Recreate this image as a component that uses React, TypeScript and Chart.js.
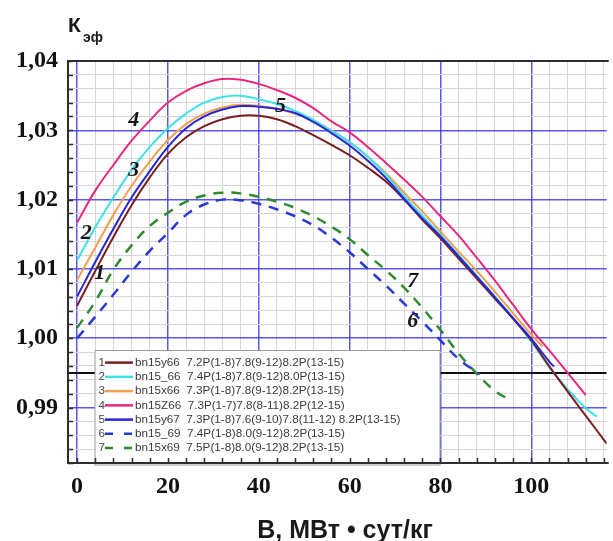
import React, { useEffect, useRef } from 'react';
import { Chart, registerables } from 'chart.js';

Chart.register(...registerables);

// ---------- data ----------
const seriesNames = [
  'bn15y66  7.2P(1-8)7.8(9-12)8.2P(13-15)',
  'bn15_66  7.4P(1-8)7.8(9-12)8.0P(13-15)',
  'bn15x66  7.3P(1-8)7.8(9-12)8.2P(13-15)',
  'bn15Z66  7.3P(1-7)7.8(8-11)8.2P(12-15)',
  'bn15y67  7.3P(1-8)7.6(9-10)7.8(11-12) 8.2P(13-15)',
  'bn15_69  7.4P(1-8)8.0(9-12)8.2P(13-15)',
  'bn15x69  7.5P(1-8)8.0(9-12)8.2P(13-15)',
];
const seriesColors = ['#7a1f1f', '#3fe0ea', '#f0a050', '#e8287e', '#2626d6', '#2a3ad0', '#2f8a2f'];
const seriesDashed = [false, false, false, false, false, true, true];

const x1 = [0, 4, 8, 12, 16, 20, 24, 28, 32, 36, 40, 44, 48, 52, 56, 60, 64, 68, 72, 76, 80, 84, 88, 92, 96, 100, 104, 108, 112, 116.6];
const y1 = [1.0047, 1.0097, 1.0146, 1.0192, 1.0232, 1.0266, 1.029, 1.0306, 1.0316, 1.0321, 1.0321, 1.0316, 1.0306, 1.0293, 1.0279, 1.0264, 1.0246, 1.0226, 1.02, 1.0171, 1.0144, 1.0115, 1.0086, 1.0057, 1.0028, 0.9997, 0.9959, 0.9923, 0.9888, 0.9848];

const x2 = [0, 4, 8, 12, 16, 20, 24, 28, 32, 36, 40, 44, 48, 52, 56, 60, 64, 68, 72, 76, 80, 84, 88, 92, 96, 100, 104, 108, 112, 114.4];
const y2 = [1.0112, 1.016, 1.0203, 1.0243, 1.0276, 1.0303, 1.0324, 1.034, 1.0348, 1.035, 1.0345, 1.0338, 1.0328, 1.0315, 1.0299, 1.0283, 1.0262, 1.0236, 1.0205, 1.0177, 1.0149, 1.012, 1.009, 1.006, 1.0029, 0.9995, 0.9958, 0.9926, 0.9899, 0.9887];

const x3 = [0, 4, 8, 12, 16, 20, 24, 28, 32, 36, 40, 44, 48, 52, 56, 60, 64, 68, 72, 76, 80, 84, 88, 92, 96, 100, 102.5];
const y3 = [1.0084, 1.0131, 1.0178, 1.022, 1.0255, 1.0286, 1.0309, 1.0324, 1.0333, 1.0337, 1.0335, 1.0331, 1.0324, 1.0314, 1.03, 1.0283, 1.0262, 1.0238, 1.021, 1.0183, 1.0154, 1.0125, 1.0097, 1.0067, 1.0036, 1.0005, 0.9988];

const x4 = [0, 4, 8, 12, 16, 20, 24, 28, 32, 36, 40, 44, 48, 52, 56, 60, 64, 68, 72, 76, 80, 84, 88, 92, 96, 100, 104, 108, 112];
const y4 = [1.0167, 1.0213, 1.025, 1.0285, 1.0314, 1.034, 1.0357, 1.0368, 1.0374, 1.0373, 1.0367, 1.0358, 1.0347, 1.0332, 1.0313, 1.0297, 1.0276, 1.0253, 1.0229, 1.0204, 1.0176, 1.0148, 1.0116, 1.0083, 1.0048, 1.0013, 0.9982, 0.995, 0.9918];

const x5 = [0, 4, 8, 12, 16, 20, 24, 28, 32, 36, 40, 44, 48, 52, 56, 60, 64, 68, 72, 76, 80, 84, 88, 92, 96, 100, 104, 105];
const y5 = [1.006, 1.011, 1.0158, 1.0203, 1.0241, 1.0276, 1.0303, 1.032, 1.033, 1.0335, 1.0334, 1.0331, 1.0325, 1.0312, 1.0296, 1.0278, 1.0256, 1.0231, 1.0201, 1.0173, 1.0147, 1.0118, 1.0089, 1.0059, 1.0029, 0.9999, 0.9966, 0.9959];

const x6 = [0, 4, 8, 12, 16, 20, 24, 28, 32, 36, 40, 44, 48, 52, 56, 60, 64, 68, 72, 76, 80, 84, 88, 88.7];
const y6 = [1.0, 1.0031, 1.0063, 1.0096, 1.0126, 1.0152, 1.0178, 1.0193, 1.02, 1.0199, 1.0194, 1.0186, 1.0176, 1.0163, 1.0145, 1.0124, 1.01, 1.0076, 1.005, 1.0024, 0.9997, 0.997, 0.9951, 0.9948];

const x7 = [0, 4, 8, 12, 16, 20, 24, 28, 32, 36, 40, 44, 48, 52, 56, 60, 64, 68, 72, 76, 80, 84, 88, 92, 95.6];
const y7 = [1.0015, 1.0053, 1.0099, 1.0134, 1.0162, 1.0181, 1.0197, 1.0206, 1.021, 1.0209, 1.0204, 1.0197, 1.0188, 1.0176, 1.0161, 1.0143, 1.012, 1.0098, 1.0073, 1.0044, 1.0012, 0.9978, 0.9949, 0.9924, 0.991];

const seriesX = [x1, x2, x3, x4, x5, x6, x7];
const seriesY = [y1, y2, y3, y4, y5, y6, y7];

const refLineValue = 0.995;

// curve number labels (data coordinates)
const curveLabelText = ['1', '2', '3', '4', '5', '6', '7'];
const curveLabelX = [5, 2, 12.5, 12.5, 44.8, 73.9, 73.9];
const curveLabelY = [1.0094, 1.0152, 1.0243, 1.0315, 1.0335, 1.0024, 1.0082];

const X_MIN = -2;
const X_MAX = 116.6;
const Y_MIN = 0.982;
const Y_MAX = 1.04;
const xTickValues: number[] = [];
for (let v = 0; v <= 116; v += 4) xTickValues.push(v);
const yTickValues: number[] = [];
for (let i = 0; i <= 29; i++) yTickValues.push(Math.round((Y_MIN + i * 0.002) * 1000) / 1000);

const yTitleMain = 'К';
const yTitleSub = 'эф';
const xTitle = 'В, МВт • сут/кг';

const SERIF = '"Liberation Serif", "Times New Roman", serif';
const SANS = '"Liberation Sans", Arial, sans-serif';

const isMajorY = (v: number) => Math.abs(v * 100 - Math.round(v * 100)) < 1e-6;
const isMajorX = (v: number) => Math.abs(v % 20) < 1e-6;

const MAJOR = 'rgba(60,60,235,0.85)';
const MINOR = '#d6d6d6';

const decorPlugin = {
  id: 'decor',
  afterDatasetsDraw(chart: any) {
    const { ctx, chartArea: a, scales } = chart;
    const xs = scales.x;
    const ys = scales.y;
    ctx.save();
    // curve numbers
    ctx.font = 'italic bold 22px ' + SERIF;
    ctx.fillStyle = '#151515';
    ctx.textAlign = 'center';
    ctx.textBaseline = 'middle';
    curveLabelText.forEach((t, i) => {
      ctx.fillText(t, xs.getPixelForValue(curveLabelX[i]), ys.getPixelForValue(curveLabelY[i]));
    });
    // legend box
    const bx = a.left + 27;
    const by = 350.5;
    const bw = 345;
    const bh = a.bottom - by;
    ctx.fillStyle = '#ffffff';
    ctx.fillRect(bx, by, bw, bh);
    ctx.strokeStyle = '#9a9a9a';
    ctx.lineWidth = 1;
    ctx.strokeRect(bx, by, bw, bh + 2);
    ctx.font = '11.7px ' + SANS;
    ctx.textBaseline = 'middle';
    const datasets = chart.data.datasets.filter((d: any) => !d.isRef);
    datasets.forEach((d: any, i: number) => {
      const ry = 362.6 + i * 14.25;
      ctx.fillStyle = '#444';
      ctx.textAlign = 'right';
      ctx.fillText(String(i + 1), bx + 10, ry);
      ctx.beginPath();
      ctx.strokeStyle = d.borderColor;
      ctx.lineWidth = 2.5;
      ctx.setLineDash(d.borderDash && d.borderDash.length ? [8, 11] : []);
      ctx.moveTo(bx + 10, ry);
      ctx.lineTo(bx + 38, ry);
      ctx.stroke();
      ctx.setLineDash([]);
      ctx.fillStyle = '#3a3a3a';
      ctx.textAlign = 'left';
      ctx.fillText(d.label, bx + 40, ry);
    });
    ctx.restore();
  },
  afterDraw(chart: any) {
    const { ctx, chartArea: a, scales } = chart;
    const xs = scales.x;
    const ys = scales.y;
    ctx.save();
    // frame
    ctx.strokeStyle = '#2e2e2e';
    ctx.lineWidth = 2;
    ctx.beginPath();
    ctx.moveTo(a.right + 2, a.top);
    ctx.lineTo(a.left, a.top);
    ctx.lineTo(a.left, a.bottom);
    ctx.lineTo(a.right + 2, a.bottom);
    ctx.stroke();
    // inner ticks
    ctx.lineWidth = 1.5;
    ctx.beginPath();
    yTickValues.forEach((v) => {
      const py = Math.round(ys.getPixelForValue(v)) + 0.5;
      ctx.moveTo(a.left, py);
      ctx.lineTo(a.left + 5, py);
    });
    xTickValues.forEach((v) => {
      const px = Math.round(xs.getPixelForValue(v)) + 0.5;
      ctx.moveTo(px, a.bottom);
      ctx.lineTo(px, a.bottom - 5);
    });
    ctx.stroke();
    // axis titles
    ctx.fillStyle = '#1a1a1a';
    ctx.textBaseline = 'alphabetic';
    ctx.textAlign = 'center';
    ctx.font = 'bold 25px ' + SANS;
    ctx.fillText(xTitle, 345, 538);
    ctx.textAlign = 'left';
    ctx.font = 'bold 21px ' + SANS;
    ctx.fillText(yTitleMain, 68, 32);
    ctx.font = 'bold 14px ' + SANS;
    ctx.fillText(yTitleSub, 83, 42);
    ctx.restore();
  },
};

export default function App() {
  const canvasRef = useRef<HTMLCanvasElement | null>(null);

  useEffect(() => {
    const canvas = canvasRef.current;
    if (!canvas) return;
    const datasets: any[] = seriesNames.map((name, i) => ({
      label: name,
      data: seriesX[i].map((x, j) => ({ x, y: seriesY[i][j] })),
      borderColor: seriesColors[i],
      backgroundColor: seriesColors[i],
      borderWidth: seriesDashed[i] ? 2.5 : 2,
      borderDash: seriesDashed[i] ? [10, 8] : [],
      pointRadius: 0,
      fill: false,
      tension: 0.4,
      order: i === 4 ? -1 : i,
    }));
    datasets.push({
      label: 'ref',
      isRef: true,
      data: [
        { x: X_MIN, y: refLineValue },
        { x: X_MAX, y: refLineValue },
      ],
      borderColor: '#111111',
      borderWidth: 2,
      pointRadius: 0,
      fill: false,
      order: 20,
    });

    const chart = new Chart(canvas, {
      type: 'line',
      data: { datasets },
      options: {
        responsive: false,
        animation: false,
        devicePixelRatio: 1,
        layout: { padding: { top: 61, left: 0, right: 0, bottom: 0 } },
        plugins: { legend: { display: false }, tooltip: { enabled: false } },
        scales: {
          x: {
            type: 'linear',
            min: X_MIN,
            max: X_MAX,
            afterBuildTicks: (s: any) => {
              s.ticks = xTickValues.map((v) => ({ value: v }));
            },
            afterFit: (s: any) => {
              s.height = 78;
            },
            ticks: {
              autoSkip: false,
              maxRotation: 0,
              padding: 9,
              color: '#111',
              font: { family: SERIF, size: 24, weight: 'bold' },
              callback: (v: any) => (isMajorX(Number(v)) ? String(v) : ''),
            },
            grid: {
              drawTicks: false,
              color: (c: any) => (c.tick && isMajorX(c.tick.value) ? MAJOR : MINOR),
              lineWidth: (c: any) => (c.tick && isMajorX(c.tick.value) ? 1.5 : 1),
            },
            border: { display: false },
          },
          y: {
            type: 'linear',
            min: Y_MIN,
            max: Y_MAX,
            afterBuildTicks: (s: any) => {
              s.ticks = yTickValues.map((v) => ({ value: v }));
            },
            afterFit: (s: any) => {
              s.width = 68;
            },
            ticks: {
              autoSkip: false,
              padding: 10,
              color: '#111',
              font: { family: SERIF, size: 24, weight: 'bold' },
              callback: (v: any) => (isMajorY(Number(v)) ? Number(v).toFixed(2).replace('.', ',') : ''),
            },
            grid: {
              drawTicks: false,
              color: (c: any) => (c.tick && isMajorY(c.tick.value) ? MAJOR : MINOR),
              lineWidth: (c: any) => (c.tick && isMajorY(c.tick.value) ? 1.5 : 1),
            },
            border: { display: false },
          },
        },
      } as any,
      plugins: [decorPlugin],
    });
    return () => chart.destroy();
  }, []);

  return (
    <div style={{ position: 'absolute', left: 0, top: 0, width: 613, height: 541, background: '#fff' }}>
      <canvas ref={canvasRef} width={613} height={541} style={{ display: 'block' }} />
    </div>
  );
}
